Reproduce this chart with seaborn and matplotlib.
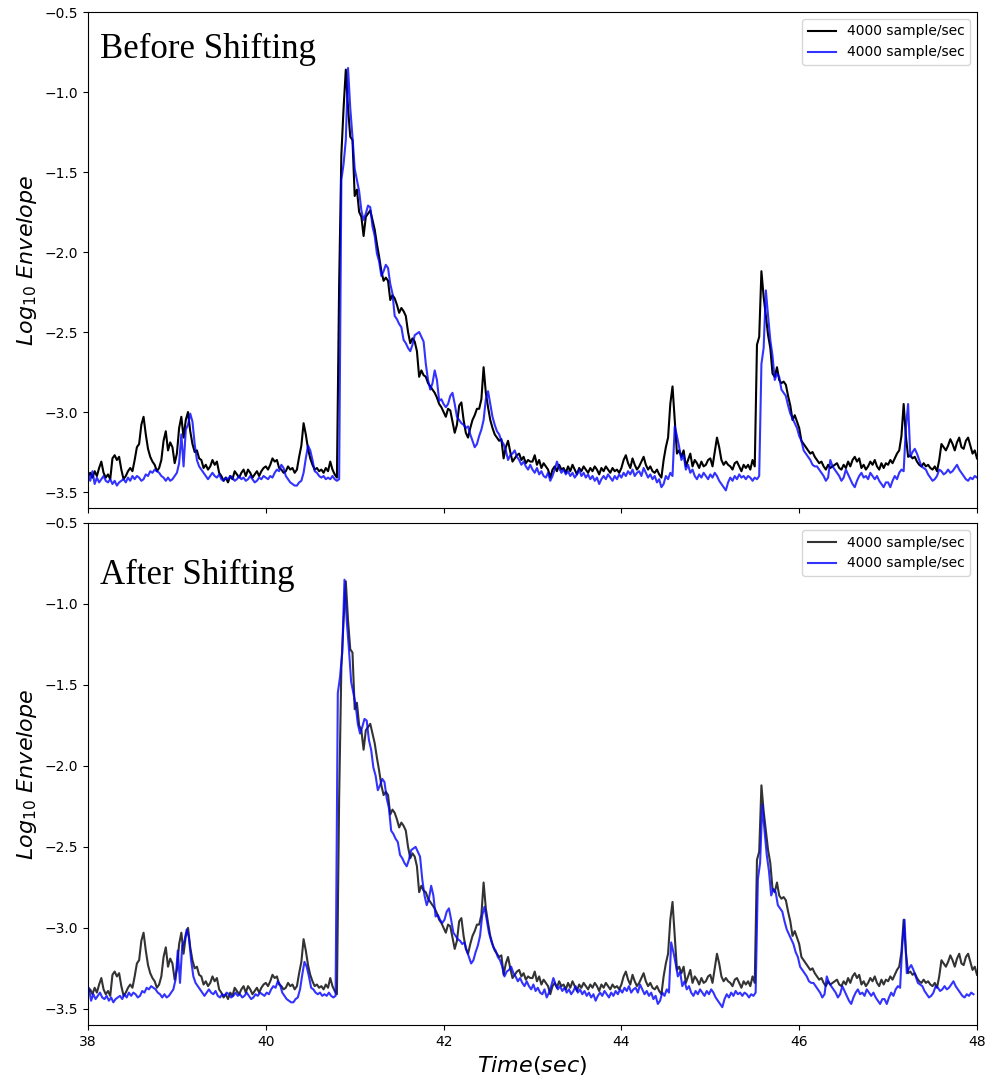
import numpy as np
import matplotlib
matplotlib.use("Agg")
import matplotlib.pyplot as plt
import seaborn as sns
import pandas as pd

# time grid (seconds), 0.025 s sampling
time = np.round(np.linspace(38.0, 48.0, 401), 3)

# black trace: 4000 sample/sec (reference)
black = [
    -3.40, -3.38, -3.41, -3.37, -3.40, -3.35, -3.31, -3.38,
    -3.41, -3.39, -3.42, -3.29, -3.27, -3.30, -3.28, -3.36,
    -3.42, -3.40, -3.37, -3.35, -3.37, -3.30, -3.22, -3.20,
    -3.08, -3.03, -3.14, -3.23, -3.28, -3.31, -3.33, -3.37,
    -3.35, -3.30, -3.18, -3.12, -3.24, -3.19, -3.22, -3.32,
    -3.26, -3.10, -3.03, -3.16, -3.05, -3.00, -3.12, -3.20,
    -3.25, -3.24, -3.29, -3.30, -3.35, -3.33, -3.36, -3.34,
    -3.30, -3.33, -3.31, -3.38, -3.40, -3.43, -3.41, -3.44,
    -3.40, -3.42, -3.37, -3.39, -3.41, -3.38, -3.36, -3.40,
    -3.36, -3.38, -3.41, -3.39, -3.37, -3.40, -3.37, -3.35,
    -3.34, -3.36, -3.33, -3.29, -3.31, -3.30, -3.35, -3.36,
    -3.38, -3.37, -3.34, -3.36, -3.35, -3.38, -3.36, -3.28,
    -3.21, -3.07, -3.14, -3.23, -3.29, -3.33, -3.36, -3.35,
    -3.37, -3.36, -3.38, -3.35, -3.37, -3.31, -3.36, -3.39,
    -3.41, -2.20, -1.39, -1.10, -0.86, -1.10, -1.28, -1.30,
    -1.65, -1.61, -1.75, -1.78, -1.90, -1.78, -1.76, -1.74,
    -1.80, -1.86, -1.95, -2.03, -2.12, -2.18, -2.16, -2.18,
    -2.30, -2.27, -2.29, -2.33, -2.38, -2.35, -2.37, -2.40,
    -2.50, -2.57, -2.54, -2.56, -2.62, -2.78, -2.74, -2.77,
    -2.78, -2.82, -2.84, -2.86, -2.88, -2.91, -2.95, -2.97,
    -3.00, -3.03, -2.98, -2.99, -3.06, -3.13, -3.08, -2.96,
    -2.94, -3.05, -3.13, -3.16, -3.10, -3.05, -3.02, -2.98,
    -2.98, -2.92, -2.72, -2.88, -2.97, -3.05, -3.10, -3.14,
    -3.16, -3.18, -3.17, -3.29, -3.22, -3.18, -3.25, -3.31,
    -3.29, -3.27, -3.26, -3.30, -3.28, -3.32, -3.30, -3.31,
    -3.31, -3.27, -3.33, -3.30, -3.35, -3.32, -3.34, -3.36,
    -3.41, -3.36, -3.34, -3.37, -3.33, -3.36, -3.35, -3.38,
    -3.34, -3.37, -3.33, -3.36, -3.39, -3.35, -3.37, -3.34,
    -3.36, -3.38, -3.35, -3.37, -3.34, -3.36, -3.39, -3.35,
    -3.37, -3.34, -3.36, -3.38, -3.35, -3.37, -3.36, -3.38,
    -3.35, -3.30, -3.27, -3.32, -3.35, -3.29, -3.33, -3.36,
    -3.34, -3.31, -3.28, -3.33, -3.36, -3.34, -3.37, -3.38,
    -3.36, -3.39, -3.41, -3.30, -3.22, -3.16, -2.95, -2.84,
    -3.05, -3.26, -3.24, -3.28, -3.24, -3.34, -3.30, -3.26,
    -3.34, -3.30, -3.32, -3.35, -3.31, -3.34, -3.33, -3.30,
    -3.29, -3.34, -3.25, -3.16, -3.22, -3.30, -3.33, -3.31,
    -3.33, -3.34, -3.36, -3.32, -3.31, -3.34, -3.37, -3.33,
    -3.35, -3.33, -3.36, -3.30, -3.34, -2.58, -2.53, -2.12,
    -2.28, -2.40, -2.52, -2.60, -2.76, -2.78, -2.72, -2.80,
    -2.82, -2.81, -2.83, -2.90, -2.96, -3.05, -3.02, -3.06,
    -3.10, -3.18, -3.20, -3.22, -3.24, -3.26, -3.25, -3.28,
    -3.30, -3.32, -3.31, -3.34, -3.36, -3.33, -3.35, -3.34,
    -3.33, -3.32, -3.35, -3.36, -3.33, -3.35, -3.31, -3.34,
    -3.30, -3.28, -3.31, -3.29, -3.35, -3.33, -3.36, -3.34,
    -3.31, -3.33, -3.30, -3.34, -3.36, -3.32, -3.35, -3.32,
    -3.33, -3.30, -3.32, -3.29, -3.26, -3.24, -3.15, -2.95,
    -3.15, -3.28, -3.27, -3.29, -3.28, -3.31, -3.33, -3.34,
    -3.32, -3.34, -3.33, -3.35, -3.36, -3.34, -3.37, -3.30,
    -3.20, -3.22, -3.24, -3.21, -3.17, -3.20, -3.24, -3.19,
    -3.16, -3.22, -3.23, -3.18, -3.16, -3.21, -3.26, -3.24,
    -3.29,
]

# blue trace: 4000 sample/sec (second record)
blue = [
    -3.38, -3.43, -3.37, -3.45, -3.41, -3.44, -3.42, -3.40,
    -3.43, -3.44, -3.42, -3.45, -3.43, -3.46, -3.44, -3.43,
    -3.42, -3.44, -3.41, -3.43, -3.40, -3.42, -3.40, -3.41,
    -3.43, -3.42, -3.39, -3.40, -3.37, -3.38, -3.36, -3.37,
    -3.38, -3.40, -3.41, -3.43, -3.41, -3.43, -3.42, -3.40,
    -3.38, -3.32, -3.14, -3.34, -3.11, -3.08, -3.01, -3.06,
    -3.20, -3.30, -3.34, -3.36, -3.38, -3.40, -3.42, -3.40,
    -3.38, -3.40, -3.41, -3.39, -3.42, -3.43, -3.41, -3.42,
    -3.40, -3.41, -3.43, -3.42, -3.40, -3.42, -3.41, -3.43,
    -3.42, -3.40, -3.42, -3.44, -3.43, -3.41, -3.42, -3.40,
    -3.41, -3.42, -3.40, -3.41, -3.38, -3.36, -3.37, -3.33,
    -3.35, -3.40, -3.42, -3.44, -3.45, -3.46, -3.46, -3.44,
    -3.43, -3.38, -3.29, -3.21, -3.24, -3.30, -3.37, -3.38,
    -3.40, -3.41, -3.40, -3.42, -3.41, -3.42, -3.40, -3.42,
    -3.43, -3.42, -1.55, -1.45, -1.30, -0.85, -1.10, -1.28,
    -1.48, -1.55, -1.62, -1.74, -1.80, -1.76, -1.71, -1.72,
    -1.84, -1.90, -2.01, -2.06, -2.15, -2.12, -2.08, -2.10,
    -2.20, -2.26, -2.40, -2.42, -2.45, -2.47, -2.55, -2.57,
    -2.60, -2.62, -2.58, -2.52, -2.51, -2.50, -2.53, -2.56,
    -2.70, -2.80, -2.86, -2.82, -2.74, -2.80, -2.93, -2.92,
    -2.95, -2.97, -2.95, -2.90, -2.88, -2.95, -3.03, -3.05,
    -3.07, -3.08, -3.10, -3.09, -3.14, -3.18, -3.22, -3.20,
    -3.15, -3.11, -3.05, -2.92, -2.87, -2.95, -3.03, -3.08,
    -3.12, -3.14, -3.18, -3.20, -3.24, -3.30, -3.27, -3.26,
    -3.24, -3.28, -3.30, -3.33, -3.31, -3.34, -3.36, -3.33,
    -3.36, -3.38, -3.35, -3.39, -3.37, -3.40, -3.41, -3.38,
    -3.43, -3.40, -3.36, -3.31, -3.35, -3.38, -3.36, -3.39,
    -3.37, -3.40, -3.38, -3.41, -3.39, -3.36, -3.40, -3.38,
    -3.41, -3.39, -3.42, -3.40, -3.43, -3.41, -3.45, -3.42,
    -3.40, -3.42, -3.39, -3.41, -3.43, -3.40, -3.42, -3.39,
    -3.41, -3.38, -3.40, -3.37, -3.39, -3.36, -3.40, -3.38,
    -3.37, -3.40, -3.35, -3.38, -3.41, -3.39, -3.42, -3.40,
    -3.44, -3.42, -3.47, -3.45, -3.40, -3.42, -3.38, -3.40,
    -3.09, -3.15, -3.22, -3.30, -3.27, -3.36, -3.33, -3.38,
    -3.36, -3.40, -3.42, -3.39, -3.41, -3.38, -3.40, -3.42,
    -3.39, -3.41, -3.38, -3.40, -3.43, -3.45, -3.47, -3.49,
    -3.44, -3.41, -3.43, -3.40, -3.42, -3.39, -3.41, -3.40,
    -3.42, -3.40, -3.41, -3.43, -3.41, -3.42, -3.40, -2.70,
    -2.60, -2.24, -2.40, -2.55, -2.65, -2.80, -2.76, -2.78,
    -2.86, -2.88, -2.90, -2.96, -3.01, -3.04, -3.07, -3.10,
    -3.15, -3.18, -3.24, -3.26, -3.28, -3.30, -3.33, -3.34,
    -3.34, -3.36, -3.38, -3.40, -3.43, -3.41, -3.30, -3.34,
    -3.36, -3.38, -3.40, -3.43, -3.41, -3.36, -3.39, -3.42,
    -3.45, -3.47, -3.43, -3.40, -3.38, -3.41, -3.40, -3.42,
    -3.38, -3.40, -3.42, -3.40, -3.43, -3.45, -3.47, -3.44,
    -3.44, -3.47, -3.43, -3.40, -3.42, -3.38, -3.36, -3.37,
    -3.10, -2.95, -3.28, -3.25, -3.23, -3.26, -3.30, -3.34,
    -3.35, -3.36, -3.39, -3.41, -3.43, -3.42, -3.40, -3.36,
    -3.37, -3.39, -3.38, -3.36, -3.38, -3.37, -3.35, -3.33,
    -3.36, -3.38, -3.40, -3.42, -3.43, -3.41, -3.42, -3.40,
    -3.41,
]

# time shift applied to the blue record in the lower panel (s)
shift = 0.04

titles = ["Before Shifting", "After Shifting"]
legend_label = "4000 sample/sec"
xticks = [38, 40, 42, 44, 46, 48]
yticks = [-3.5, -3.0, -2.5, -2.0, -1.5, -1.0, -0.5]

df_black = pd.DataFrame({"t": time, "v": black})
df_blue = pd.DataFrame({"t": time, "v": blue})
df_blue_shift = pd.DataFrame({"t": time - shift, "v": blue})

fig = plt.figure(figsize=(9.87, 10.84), dpi=100)
W, H = 987, 1084
ax1 = fig.add_axes([88 / W, 1 - 508 / H, 889 / W, 496 / H])
ax2 = fig.add_axes([88 / W, 1 - 1025 / H, 889 / W, 502 / H], sharex=ax1)

panels = [(ax1, df_blue, 1.0), (ax2, df_blue_shift, 0.8)]
for i, (ax, dfb, ka) in enumerate(panels):
    sns.lineplot(data=df_black, x="t", y="v", ax=ax, color="black", alpha=ka,
                 lw=1.5, label=legend_label, estimator=None)
    sns.lineplot(data=dfb, x="t", y="v", ax=ax, color="blue", alpha=0.8,
                 lw=1.5, label=legend_label, estimator=None)
    ax.set_xlim(38, 48)
    ax.set_ylim(-3.6, -0.5)
    ax.set_yticks(yticks)
    ax.set_xticks(xticks)
    ax.set_ylabel(r"$Log_{10}\ Envelope$", fontsize=16)
    ax.set_xlabel("")
    ax.legend(loc="upper right", fontsize=10)
    ax.text(0.013, 0.925 if i == 0 else 0.895, titles[i], transform=ax.transAxes,
            fontsize=25, family="Liberation Serif", va="center", ha="left")
    ax.tick_params(labelsize=10)

ax1.tick_params(labelbottom=False)
ax2.set_xlabel(r"$Time(sec)$", fontsize=16)

fig.savefig("out.png", dpi=100)
